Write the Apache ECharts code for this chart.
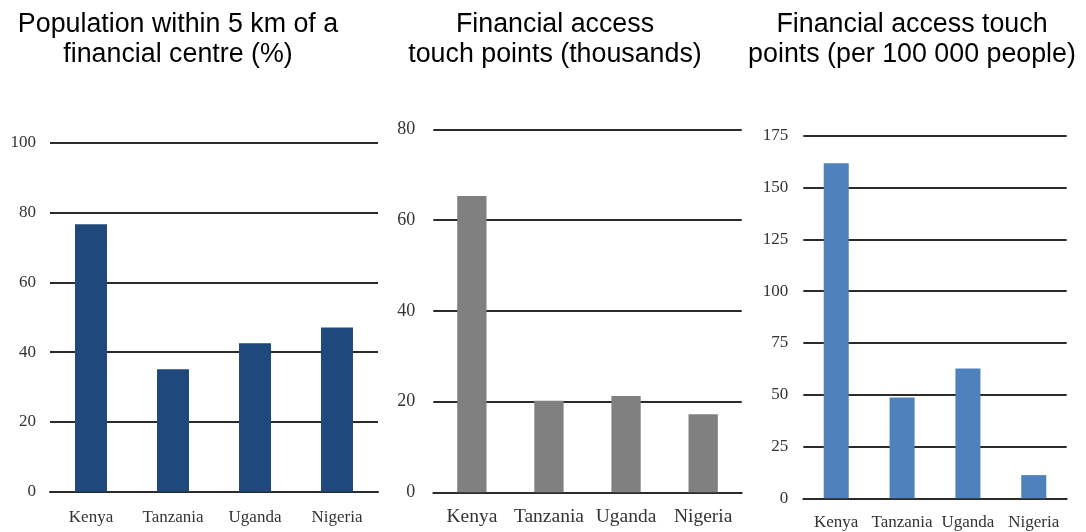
<!DOCTYPE html>
<html>
<head>
<meta charset="utf-8">
<title>Financial access</title>
<script src="https://cdn.jsdelivr.net/npm/echarts@6/dist/echarts.min.js"></script>
<style>
  html, body { margin: 0; padding: 0; background: #fff; }
  #chart { width: 1086px; height: 532px; }
</style>
</head>
<body>
<div id="chart"></div>
<script>
// data
const countries = ['Kenya', 'Tanzania', 'Uganda', 'Nigeria']
const populationNear = [76.7, 35.1, 42.6, 47.1]      // % within 5 km
const touchPointsK = [65.3, 20.2, 21.2, 17.2]        // thousands
const touchPointsPer100k = [161.7, 48.6, 62.7, 11.2] // per 100 000 people

const titles = [
  'Population within 5 km of a\nfinancial centre (%)',
  'Financial access\ntouch points (thousands)',
  'Financial access touch\npoints (per 100 000 people)'
]

const serif = "'Liberation Serif', 'Times New Roman', serif"
const sans = "'Liberation Sans', Arial, sans-serif"
const gridLine = { lineStyle: { color: '#2b2b2b', width: 2 } }

// panel layout: grid box, title centre, axis scale, label sizes
const panels = [
  { grid: { left: 50, top: 143, width: 328, height: 348.7 }, cx: 178, max: 100, interval: 20,
    yFont: 17, yMargin: 14, xFont: 17, xMargin: 17, barWidth: '39%', color: '#1f497d', data: populationNear },
  { grid: { left: 433.3, top: 129.3, width: 308.4, height: 363 }, cx: 555, max: 80, interval: 20,
    yFont: 18, yMargin: 18, xFont: 19.5, xMargin: 15, barWidth: '38%', color: '#808080', data: touchPointsK },
  { grid: { left: 803.3, top: 135.7, width: 263.4, height: 362.6 }, cx: 912, max: 175, interval: 25,
    yFont: 17, yMargin: 15, xFont: 17, xMargin: 16, barWidth: '38%', color: '#4f81bd', data: touchPointsPer100k }
]

const chart = echarts.init(document.getElementById('chart'))

const option = {
  animation: false,
  title: panels.map((p, i) => ({
    text: titles[i],
    left: p.cx,
    top: 10,
    padding: 0,
    textAlign: 'center',
    textStyle: { fontFamily: sans, fontSize: 26.8, fontWeight: 'normal', color: '#000', lineHeight: 30 }
  })),
  grid: panels.map(p => ({ ...p.grid, containLabel: false })),
  xAxis: panels.map((p, i) => ({
    type: 'category',
    gridIndex: i,
    data: countries,
    axisTick: { show: false },
    axisLine: { show: true, ...gridLine },
    axisLabel: { fontFamily: serif, fontSize: p.xFont, color: '#333', margin: p.xMargin, interval: 0 }
  })),
  yAxis: panels.map((p, i) => ({
    type: 'value',
    gridIndex: i,
    min: 0,
    max: p.max,
    interval: p.interval,
    axisLine: { show: false },
    axisTick: { show: false },
    splitLine: { show: true, ...gridLine },
    axisLabel: { fontFamily: serif, fontSize: p.yFont, color: '#333', margin: p.yMargin }
  })),
  series: panels.map((p, i) => ({
    type: 'bar',
    xAxisIndex: i,
    yAxisIndex: i,
    data: p.data,
    barWidth: p.barWidth,
    itemStyle: { color: p.color }
  }))
}

chart.setOption(option)
</script>
</body>
</html>
